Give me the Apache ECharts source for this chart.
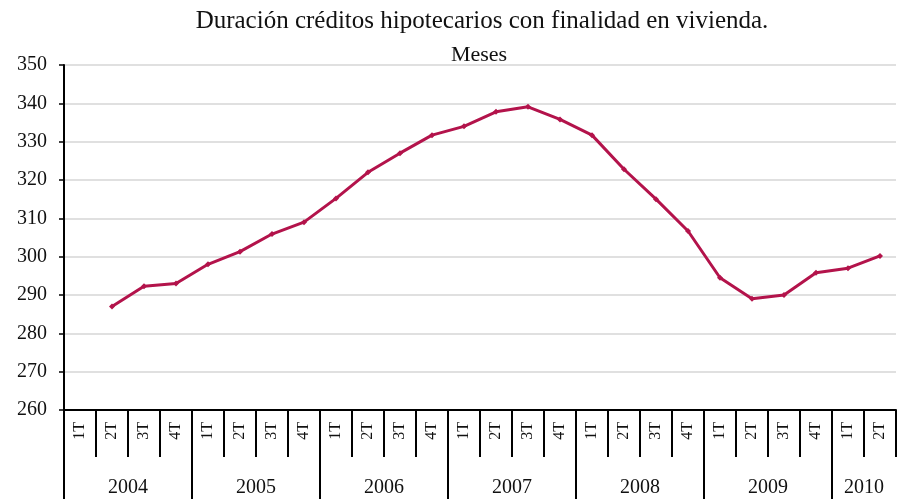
<!DOCTYPE html>
<html>
<head>
<meta charset="utf-8">
<script src="https://cdn.jsdelivr.net/npm/echarts@6/dist/echarts.min.js"></script>
<style>
html, body { margin: 0; padding: 0; background: #fff; }
#chart { width: 899px; height: 499px; }
</style>
</head>
<body>
<div id="chart"></div>
<script>
// periodos
var years = ['2004', '2005', '2006', '2007', '2008', '2009', '2010'];
var quarterNames = ['1T', '2T', '3T', '4T'];
var quartersPerYear = [4, 4, 4, 4, 4, 4, 2];
// duracion media (meses)
var duracion = [
    null, 287, 292.3, 293,
    298, 301.3, 305.9, 309,
    315.2, 322, 327, 331.7,
    334, 337.8, 339.1, 335.8,
    331.7, 322.8, 315, 306.7,
    294.5, 289, 290, 295.8,
    297, 300.2
];
var titulo = 'Duración créditos hipotecarios con finalidad en vivienda.';
var subtitulo = 'Meses';

var quarterCats = [];
quartersPerYear.forEach(function (n) {
    for (var q = 0; q < n; q++) {
        quarterCats.push(quarterNames[q]);
    }
});
// eje de años: etiquetas en los limites (boundaryGap false), 0..N
var yearBounds = [];
for (var b = 0; b <= quarterCats.length; b++) yearBounds.push('');
var yearStarts = [];
var pos = 0;
quartersPerYear.forEach(function (n, i) {
    yearStarts.push(pos);
    yearBounds[pos + n / 2] = years[i];
    pos += n;
});

var serif = 'Liberation Serif';
var chart = echarts.init(document.getElementById('chart'));
chart.setOption({
    animation: false,
    graphic: [
        {
            type: 'text',
            x: 482,
            y: 9,
            style: {
                text: titulo,
                align: 'center',
                verticalAlign: 'top',
                font: '25px "Liberation Serif"',
                fill: '#111'
            }
        },
        {
            type: 'text',
            x: 479,
            y: 44,
            style: {
                text: subtitulo,
                align: 'center',
                verticalAlign: 'top',
                font: '22px "Liberation Serif"',
                fill: '#111'
            }
        }
    ],
    grid: {
        left: 64,
        right: -7,
        top: 65,
        bottom: 89,
        containLabel: false
    },
    xAxis: [
        {
            type: 'category',
            data: quarterCats,
            position: 'bottom',
            axisLine: { show: true, lineStyle: { color: '#000', width: 2 } },
            axisTick: { show: true, interval: 0, length: 47, lineStyle: { color: '#000', width: 2 } },
            axisLabel: {
                interval: 0,
                rotate: 90,
                margin: 12,
                fontFamily: serif,
                fontSize: 16,
                color: '#111'
            },
            splitLine: { show: false }
        },
        {
            type: 'category',
            data: yearBounds,
            position: 'bottom',
            boundaryGap: false,
            axisLine: { show: false },
            axisTick: {
                show: true,
                interval: function (idx) { return yearStarts.indexOf(idx) >= 0; },
                length: 89,
                lineStyle: { color: '#000', width: 2 }
            },
            axisLabel: {
                interval: 0,
                margin: 68,
                fontFamily: serif,
                fontSize: 20,
                color: '#111'
            },
            splitLine: { show: false }
        }
    ],
    yAxis: {
        type: 'value',
        min: 260,
        max: 350,
        interval: 10,
        axisLine: { show: true, lineStyle: { color: '#000', width: 2 } },
        axisTick: { show: true, length: 5, lineStyle: { color: '#000', width: 1.5 } },
        axisLabel: {
            margin: 17,
            fontFamily: serif,
            fontSize: 20,
            color: '#111'
        },
        splitLine: { show: true, lineStyle: { color: '#e0e0e0', width: 2 } }
    },
    series: [
        {
            name: 'Duración',
            type: 'line',
            xAxisIndex: 0,
            data: duracion,
            symbol: 'diamond',
            symbolSize: 6,
            lineStyle: { color: '#b3134b', width: 3 },
            itemStyle: { color: '#b3134b' }
        }
    ]
});
</script>
</body>
</html>
